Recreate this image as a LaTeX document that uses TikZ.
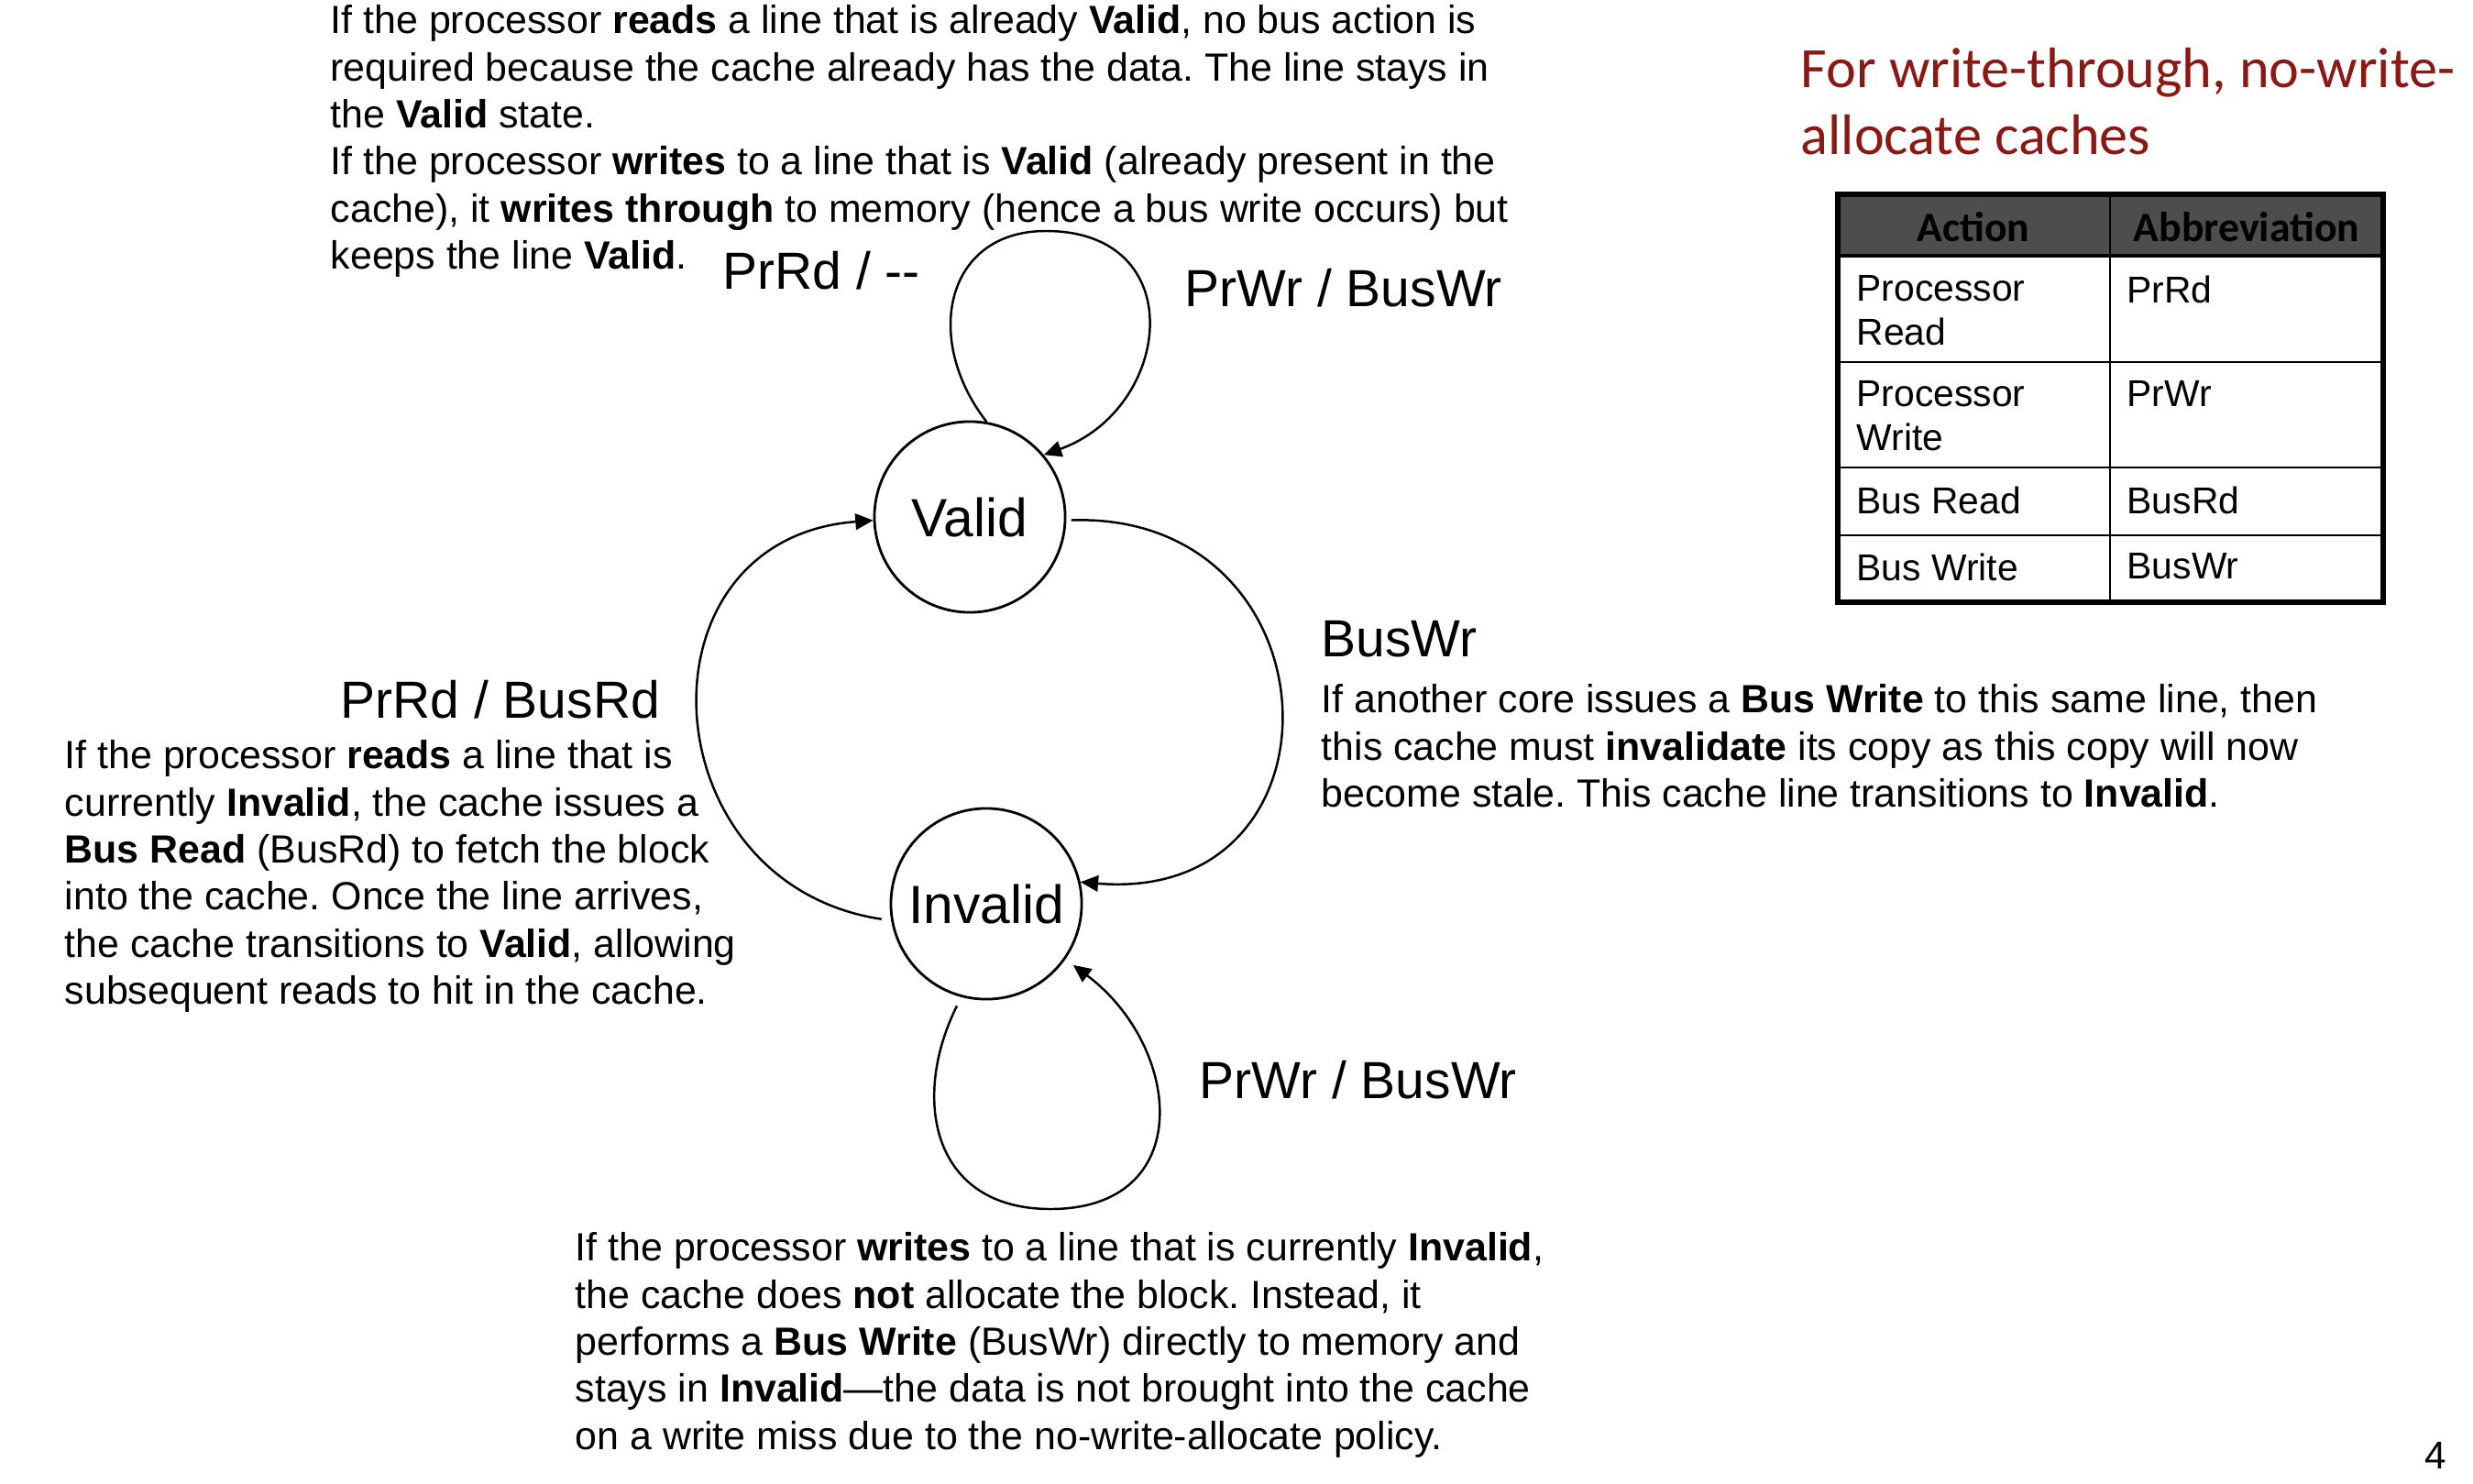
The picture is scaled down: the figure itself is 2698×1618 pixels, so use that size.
\documentclass[tikz,border=0pt]{standalone}
\usepackage{fontspec}
\setmainfont{Liberation Sans}
\newfontfamily\calfont{Carlito}
\usepackage{xcolor}
\usetikzlibrary{arrows.meta}
\definecolor{titlered}{RGB}{140,24,20}
\definecolor{headgray}{RGB}{77,77,77}
\frenchspacing

\begin{document}
\begin{tikzpicture}[x=0.01cm,y=0.01cm,
  state/.style={draw,circle,line width=0.8pt,minimum size=2.08cm,inner sep=0pt,
    font=\fontsize{16.7}{20}\selectfont},
  trans/.style={line width=0.7pt,-{Triangle[length=5.5pt,width=5pt]}},
  lbl/.style={anchor=base west,inner sep=0pt,font=\fontsize{16.2}{19}\selectfont},
  para/.style={anchor=north west,inner sep=0pt,align=left,
    font=\fontsize{12.2}{14.6}\selectfont},
  cell/.style={anchor=north west,inner sep=0pt,align=left,
    font=\fontsize{11.6}{13.7}\selectfont},
  headcell/.style={anchor=base,inner sep=0pt,
    font=\calfont\bfseries\fontsize{13}{15}\selectfont}]
\useasboundingbox (0,0) rectangle (2698,-1618);
% Two states
\node[state] (valid) at (1058,-564) {Valid};
\node[state] (invalid) at (1076,-986) {Invalid};
\coordinate (vtop) at (1141,-252);
\coordinate (ibot) at (1146,-1319);
% Self loops
\draw[trans] (valid.80) .. controls +(-70,90) and +(-110,0) .. (vtop)
  .. controls +(160,0) and +(140,50) .. (valid.40);
\draw[trans,shorten <=3pt,shorten >=3pt] (invalid.255)
  .. controls +(-55,-110) and +(-130,0) .. (ibot)
  .. controls +(160,0) and +(128,-96) .. (invalid.325);
% Transitions between the states
\draw[trans,shorten <=3pt] (invalid.190) .. controls +(-265,40) and +(-265,-20) .. (valid.182);
\draw[trans,shorten <=1.5pt] (valid.-2) .. controls +(300,10) and +(300,-25) .. (invalid.13);
% Transition labels
\node[lbl] (prrd) at (788,-315) {PrRd / -{}-};
\node[lbl] (prwrv) at (1292,-334) {PrWr / BusWr};
\node[lbl] (prbus) at (371,-783) {PrRd / BusRd};
\node[lbl] (buswr) at (1441,-716) {BusWr};
\node[lbl] (prwri) at (1308,-1198) {PrWr / BusWr};
% Explanations
\node[para] (ptop) at (360,-5) {If the processor \textbf{reads} a line that is already \textbf{Valid}, no bus action is\\
required because the cache already has the data. The line stays in\\
the \textbf{Valid} state.\\
If the processor \textbf{writes} to a line that is \textbf{Valid} (already present in the\\
cache), it \textbf{writes through} to memory (hence a bus write occurs) but\\
keeps the line \textbf{Valid}.};
\node[para] (pleft) at (70,-807) {If the processor \textbf{reads} a line that is\\
currently \textbf{Invalid}, the cache issues a\\
\textbf{Bus Read} (BusRd) to fetch the block\\
into the cache. Once the line arrives,\\
the cache transitions to \textbf{Valid}, allowing\\
subsequent reads to hit in the cache.};
\node[para] (pright) at (1441,-746) {If another core issues a \textbf{Bus Write} to this same line, then\\
this cache must \textbf{invalidate} its copy as this copy will now\\
become stale. This cache line transitions to \textbf{Invalid}.};
\node[para] (pbot) at (627,-1344) {If the processor \textbf{writes} to a line that is currently \textbf{Invalid},\\
the cache does \textbf{not} allocate the block. Instead, it\\
performs a \textbf{Bus Write} (BusWr) directly to memory and\\
stays in \textbf{Invalid}---the data is not brought into the cache\\
on a write miss due to the no-write-allocate policy.};
% Title
\node[anchor=north west,inner sep=0pt,align=left,text=titlered,
  font=\calfont\fontsize{17.7}{20.5}\selectfont] (title) at (1964,-52)
  {For write-through, no-write-\\allocate caches};
% Table of abbreviations
\fill[headgray] (2005,-212) rectangle (2600,-279);
\draw[line width=0.8pt] (2302,-212) -- (2302,-657);
\draw[line width=0.8pt] (2005,-395) -- (2600,-395) (2005,-510) -- (2600,-510)
  (2005,-584) -- (2600,-584);
\draw[line width=1.2pt] (2005,-279) -- (2600,-279);
\draw[line width=1.6pt] (2005,-212) rectangle (2600,-657);
\node[headcell] (hact) at (2153,-263) {Action};
\node[headcell] (habb) at (2451,-263) {Abbreviation};
\node[cell] (a1) at (2025,-300) {Processor\\Read};
\node[cell] (b1) at (2320,-300) {PrRd};
\node[cell] (a2) at (2025,-415) {Processor\\Write};
\node[cell] (b2) at (2320,-415) {PrWr};
\node[cell] (a3) at (2025,-530) {Bus Read};
\node[cell] (b3) at (2320,-530) {BusRd};
\node[cell] (a4) at (2025,-603) {Bus Write};
\node[cell] (b4) at (2320,-603) {BusWr};
% Page number
\node[anchor=base west,inner sep=0pt,font=\fontsize{12}{14}\selectfont] (pnum) at (2645,-1602) {4};
\end{tikzpicture}
\end{document}
